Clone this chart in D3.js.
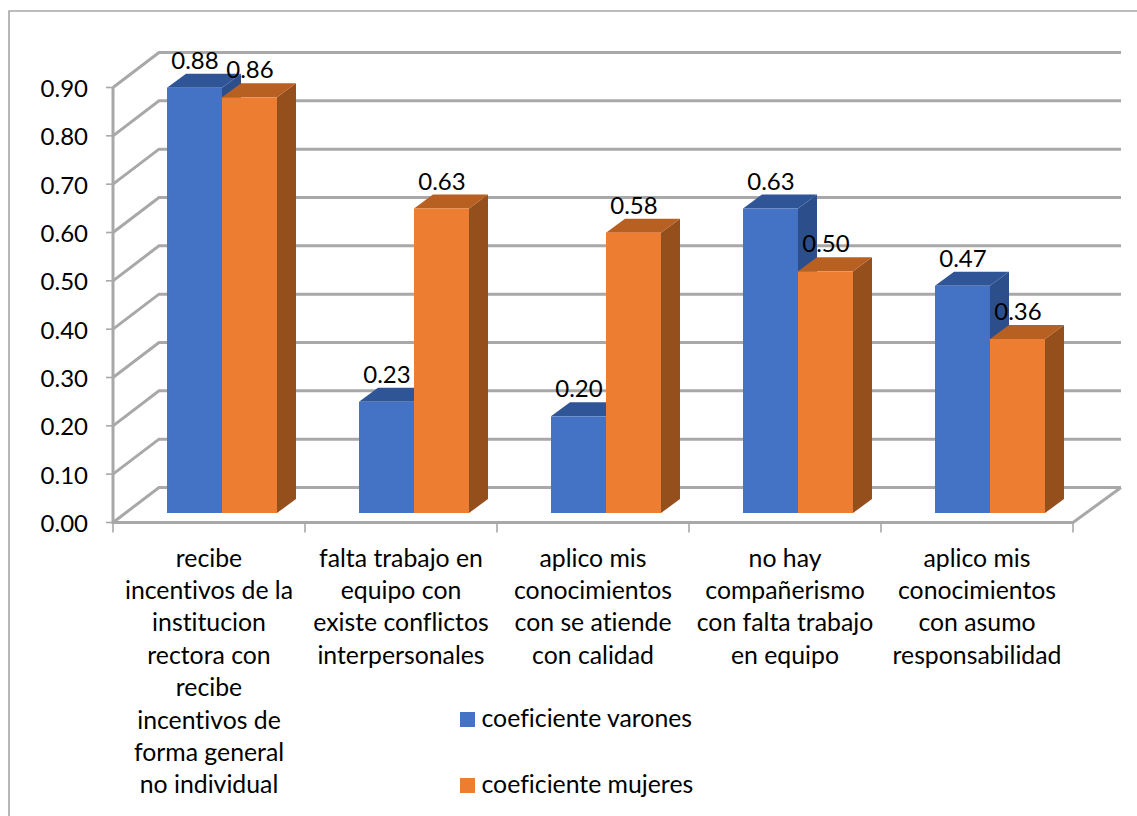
<!DOCTYPE html>
<html>
<head>
<meta charset="utf-8">
<script src="https://cdn.jsdelivr.net/npm/d3@7/dist/d3.min.js"></script>
<style>
html, body { margin: 0; padding: 0; background: #fff; }
svg { display: block; }
text { font-family: Lato, "Open Sans", sans-serif; fill: #000; font-variant-ligatures: none; }
</style>
</head>
<body>
<svg id="chart" width="1137" height="816"></svg>
<script>
const categories = [
  ["recibe", "incentivos de la", "institucion", "rectora con", "recibe", "incentivos de", "forma general", "no individual"],
  ["falta trabajo en", "equipo con", "existe conflictos", "interpersonales"],
  ["aplico mis", "conocimientos", "con se atiende", "con calidad"],
  ["no hay", "compañerismo", "con falta trabajo", "en equipo"],
  ["aplico mis", "conocimientos", "con asumo", "responsabilidad"]
];
const seriesNames = ["coeficiente varones", "coeficiente mujeres"];
const varones = [0.88, 0.23, 0.20, 0.63, 0.47];
const mujeres = [0.86, 0.63, 0.58, 0.50, 0.36];
const yTicks = [0, 0.1, 0.2, 0.3, 0.4, 0.5, 0.6, 0.7, 0.8, 0.9];

const frontColors = ["#4472c4", "#ed7d31"];
const topColors = ["#2f5597", "#b85f22"];
const sideColors = ["#2c4f8c", "#954f1c"];
const gridColor = "#a8a8a8";

// Oblique projection: wall depth is 46px across and 35px up.
const wallDx = 46, wallDy = 35;
const svg = d3.select("#chart");

const x = d3.scaleBand().domain(d3.range(categories.length)).range([113, 1073]);
const y = d3.scaleLinear().domain([0, 0.9]).range([522.5, 87.5]);
const barWidth = 55;
const project = (px, py, depth) => [px + wallDx * depth, py - wallDy * depth];

// Outer frame
const frame = svg.append("g").attr("fill", "none").attr("stroke", "#a6a6a6").attr("stroke-width", 1.6);
frame.append("path").attr("d", "M9,816V11H1137");

// Walls and floor
const grid = svg.append("g").attr("fill", "none").attr("stroke", gridColor).attr("stroke-width", 3);
grid.selectAll("path.wall").data(yTicks).join("path").attr("class", "wall")
  .attr("d", t => d3.line()([
    [x.range()[0], y(t)],
    project(x.range()[0], y(t), 1),
    [x.range()[1] + wallDx + 2, y(t) - wallDy]
  ]));
grid.append("path").attr("d", d3.line()([
  [x.range()[0], y(0.9)],
  [x.range()[0], y(0)],
  [x.range()[1], y(0)],
  [x.range()[1] + wallDx + 2, y(0) - wallDy]
]));

// Ticks
const ticks = svg.append("g").attr("stroke", gridColor).attr("stroke-width", 1.6);
ticks.selectAll("line.ty").data(yTicks).join("line").attr("class", "ty")
  .attr("x1", 106).attr("x2", 113).attr("y1", t => y(t)).attr("y2", t => y(t));
ticks.selectAll("line.tx").data(d3.range(categories.length + 1)).join("line").attr("class", "tx")
  .attr("x1", i => x.range()[0] + i * x.bandwidth())
  .attr("x2", i => x.range()[0] + i * x.bandwidth())
  .attr("y1", y(0)).attr("y2", y(0) + 10);

// Value axis labels
svg.append("g").selectAll("text").data(yTicks).join("text")
  .attr("x", 88).attr("y", t => y(t) + 9.5)
  .attr("text-anchor", "end").attr("font-size", 24)
  .text(d3.format(".2f"));

// Bars stand slightly behind the front edge and are 19px by 14px deep.
const baseShift = [13, -9.5];
const barDx = 19, barDy = 14;
const baseY = y(0) + baseShift[1];
const barHeight = d3.scaleLinear().domain([0, 0.9]).range([0, y(0) - y(0.9)]);

const rows = categories.flatMap((c, i) => [
  { i, s: 0, v: varones[i] },
  { i, s: 1, v: mujeres[i] }
]);
const barGroups = svg.append("g").selectAll("g").data(rows).join("g")
  .attr("transform", d => {
    const center = x(d.i) + x.bandwidth() / 2 + baseShift[0];
    return `translate(${center - barWidth + d.s * barWidth},${baseY})`;
  });
barGroups.append("path").attr("fill", d => sideColors[d.s])
  .attr("d", d => {
    const h = barHeight(d.v);
    return `M${barWidth},0L${barWidth + barDx},${-barDy}V${-h - barDy}L${barWidth},${-h}Z`;
  });
barGroups.append("path").attr("fill", d => topColors[d.s])
  .attr("d", d => {
    const h = barHeight(d.v);
    return `M0,${-h}L${barDx},${-h - barDy}H${barWidth + barDx}L${barWidth},${-h}Z`;
  });
barGroups.append("rect").attr("fill", d => frontColors[d.s])
  .attr("x", 0).attr("width", barWidth)
  .attr("y", d => -barHeight(d.v)).attr("height", d => barHeight(d.v));

// Value labels
barGroups.append("text")
  .attr("x", barWidth / 2 + 0.5)
  .attr("y", d => -barHeight(d.v) - 19)
  .attr("text-anchor", "middle").attr("font-size", 24)
  .text(d => d.v.toFixed(2));

// Category labels
const catGroups = svg.append("g").selectAll("g").data(categories).join("g");
catGroups.selectAll("text").data((lines, i) => lines.map((l, j) => ({ l, j, i }))).join("text")
  .attr("x", d => x(d.i) + x.bandwidth() / 2)
  .attr("y", d => 566.5 + d.j * 32.4)
  .attr("text-anchor", "middle").attr("font-size", 24.8)
  .text(d => d.l);

// Legend
const legendY = [719.5, 785.5];
const legend = svg.append("g").selectAll("g").data(seriesNames).join("g")
  .attr("transform", (d, i) => `translate(460,${legendY[i]})`);
legend.append("rect").attr("x", 0).attr("y", -7.5).attr("width", 15).attr("height", 15)
  .attr("fill", (d, i) => frontColors[i]);
legend.append("text").attr("x", 21.5).attr("y", 7.5).attr("font-size", 24.8).text(d => d);
</script>
</body>
</html>
